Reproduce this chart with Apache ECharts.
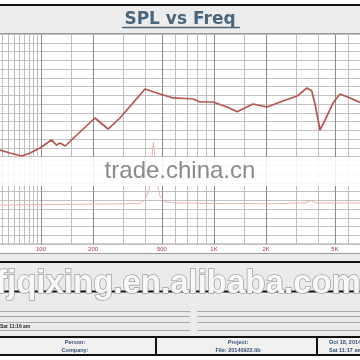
<!DOCTYPE html>
<html><head><meta charset="utf-8">
<script src="https://cdn.jsdelivr.net/npm/echarts@6/dist/echarts.min.js"></script>
<style>html,body{margin:0;padding:0;background:#fff}#c{width:360px;height:360px}</style>
</head><body><div id="c"></div>
<script>
// ---- data ----
const freqMain = [52, 57.9, 66.2, 77.3, 86.4, 98.7, 115, 123, 129, 138, 168, 205, 244, 286, 336, 399, 487, 580, 680, 756, 830, 986, 1189, 1358, 1680, 2023, 2504, 3018, 3448, 3670, 3835, 4100, 4381, 4874, 5350, 6110, 6980];
const splMain  = [11.0, 10.74, 10.4, 10.06, 10.4, 10.97, 11.89, 11.31, 11.54, 11.2, 12.8, 14.4, 13.14, 14.4, 16.0, 17.71, 17.14, 16.69, 16.63, 16.57, 16.23, 16.23, 15.66, 15.12, 16.0, 15.66, 16.34, 16.91, 17.83, 17.49, 16.0, 13.03, 14.17, 16.11, 17.14, 16.69, 16.17];
const freqLow = [52, 100, 250, 373, 399, 421, 432, 441, 447, 456, 468, 487, 521, 595, 1000, 2000, 3357, 3637, 3886, 5000, 7500];
const splLow  = [4.46, 4.5, 4.57, 4.63, 5.03, 6.17, 7.89, 10.74, 11.66, 9.6, 6.97, 5.49, 4.8, 4.69, 4.63, 4.6, 4.69, 4.97, 4.69, 4.69, 4.69];
const gridFreqs = [60, 65, 70, 75, 80, 85, 90, 95, 100, 150, 200, 300, 400, 500, 600, 700, 800, 900, 1000, 1500, 2000, 3000, 4000, 5000, 6000, 7000, 8000, 9000];
const labelFreqs = [100, 200, 500, 1000, 2000, 5000];
const labelTexts = ['100', '200', '500', '1K', '2K', '5K'];
const titleText = 'SPL vs Freq';
const stampText = 'Sat 11:16 am';
const personTexts = ['Person:', 'Company:'];
const projectTexts = ['Project:', 'File: 20140922.lib'];
const dateTexts = ['Oct 18, 2014', 'Sat 11:17 am'];
const watermark1 = 'trade.china.cn';
const watermark2 = 'fjqixing.en.alibaba.com';

const mainData = freqMain.map((f, i) => [f, splMain[i]]);
const lowData = freqLow.map((f, i) => [f, splLow[i]]);
const splitColors = gridFreqs.map(f => labelFreqs.includes(f) ? '#8c8c8c' : '#bdbdbd');

const chart = echarts.init(document.getElementById('c'), null, {renderer: 'canvas'});
const blue = '#34507a';
const g = [];
// top area
g.push({type: 'rect', shape: {x: 0, y: 4, width: 360, height: 2}, style: {fill: '#111'}, z: 1});
g.push({type: 'rect', shape: {x: 0, y: 6, width: 360, height: 27}, style: {fill: '#ececec'}, z: 1});
g.push({type: 'line', shape: {x1: 0, y1: 33.5, x2: 360, y2: 33.5}, style: {stroke: '#9a9a9a', lineWidth: 1}, z: 1});
g.push({type: 'text', x: 180, y: 20, style: {text: titleText, fill: '#48667e', font: 'bold 17px "DejaVu Sans"', align: 'center', verticalAlign: 'middle'}, z: 5});
g.push({type: 'line', shape: {x1: 122, y1: 27.5, x2: 240, y2: 27.5}, style: {stroke: '#48667e', lineWidth: 1.5}, z: 5});
// bottom area
g.push({type: 'rect', shape: {x: 0, y: 253, width: 360, height: 107}, style: {fill: '#ebebeb'}, z: 1});
g.push({type: 'line', shape: {x1: 0, y1: 253.5, x2: 360, y2: 253.5}, style: {stroke: '#9a9a9a', lineWidth: 1}, z: 2});
g.push({type: 'rect', shape: {x: 0, y: 261, width: 360, height: 2}, style: {fill: '#111'}, z: 2});
g.push({type: 'rect', shape: {x: 0, y: 290.5, width: 360, height: 2}, style: {fill: '#111'}, z: 2});
[311.5, 316.5, 322.5, 330.5].forEach(y => {
  g.push({type: 'line', shape: {x1: 0, y1: y, x2: 190, y2: y}, style: {stroke: '#a8a8a8', lineWidth: 1}, z: 2});
  g.push({type: 'line', shape: {x1: 197, y1: y, x2: 360, y2: y}, style: {stroke: '#a8a8a8', lineWidth: 1}, z: 2});
});
g.push({type: 'text', x: 0, y: 327, style: {text: stampText, fill: '#222', font: 'bold 5px "Liberation Sans"', align: 'left', verticalAlign: 'middle'}, z: 3});
g.push({type: 'rect', shape: {x: -2, y: 337, width: 365, height: 18}, style: {fill: '#f0f0f0', stroke: '#111', lineWidth: 2}, z: 2});
g.push({type: 'line', shape: {x1: 156, y1: 337, x2: 156, y2: 355}, style: {stroke: '#111', lineWidth: 2}, z: 3});
g.push({type: 'line', shape: {x1: 317, y1: 337, x2: 317, y2: 355}, style: {stroke: '#111', lineWidth: 2}, z: 3});
g.push({type: 'rect', shape: {x: 0, y: 356, width: 360, height: 4}, style: {fill: '#fff'}, z: 2});
[[75, personTexts], [238, projectTexts]].forEach(([x, arr]) => {
  arr.forEach((t, i) => g.push({type: 'text', x: x, y: 342.5 + i * 7.5, style: {text: t, fill: blue, font: 'bold 5.5px "Liberation Sans"', align: 'center', verticalAlign: 'middle'}, z: 4}));
});
dateTexts.forEach((t, i) => g.push({type: 'text', x: 329, y: 342.5 + i * 7.5, style: {text: t, fill: blue, font: 'bold 5.5px "Liberation Sans"', align: 'left', verticalAlign: 'middle'}, z: 4}));
// watermarks
g.push({type: 'rect', shape: {x: 0, y: 157, width: 360, height: 29}, style: {fill: 'rgba(255,255,255,0.88)'}, z: 100});
g.push({type: 'text', x: 180, y: 171, style: {text: watermark1, fill: '#8a8a8a', font: '24px "Liberation Sans"', align: 'center', verticalAlign: 'middle'}, z: 101});
g.push({type: 'text', x: -4, y: 284, style: {text: watermark2, fill: '#f8f8f8', stroke: '#a0a0a0', lineWidth: 1.5, font: 'bold 33px "Liberation Sans"', align: 'left', verticalAlign: 'middle'}, z: 101});

chart.setOption({
  backgroundColor: '#ffffff',
  animation: false,
  grid: {left: -132, width: 519, top: 34, height: 210, show: true, backgroundColor: '#ffffff', borderColor: '#9a9a9a', borderWidth: 1, containLabel: false, outerBoundsMode: 'none'},
  xAxis: {
    type: 'log', logBase: 10, min: 10, max: 10000,
    axisLine: {show: false},
    axisTick: {show: false, customValues: gridFreqs},
    axisLabel: {show: true, customValues: labelFreqs, margin: 2, fontSize: 6, color: '#a8305c', fontFamily: 'Liberation Sans',
      formatter: v => labelTexts[labelFreqs.indexOf(v)] || ''},
    splitLine: {show: true, lineStyle: {color: splitColors, width: 1}}
  },
  yAxis: {
    type: 'value', min: 0, max: 24, interval: 1,
    axisLine: {show: false}, axisTick: {show: false}, axisLabel: {show: false},
    splitLine: {show: true, lineStyle: {color: '#c2c2c2', width: 1}}
  },
  graphic: {elements: g},
  series: [
    {type: 'line', data: lowData, symbol: 'none', z: 3, lineStyle: {color: '#eab2b0', width: 1}},
    {type: 'line', data: mainData, symbol: 'none', z: 4, lineStyle: {color: '#b9534e', width: 1.7}}
  ]
});
</script></body></html>
